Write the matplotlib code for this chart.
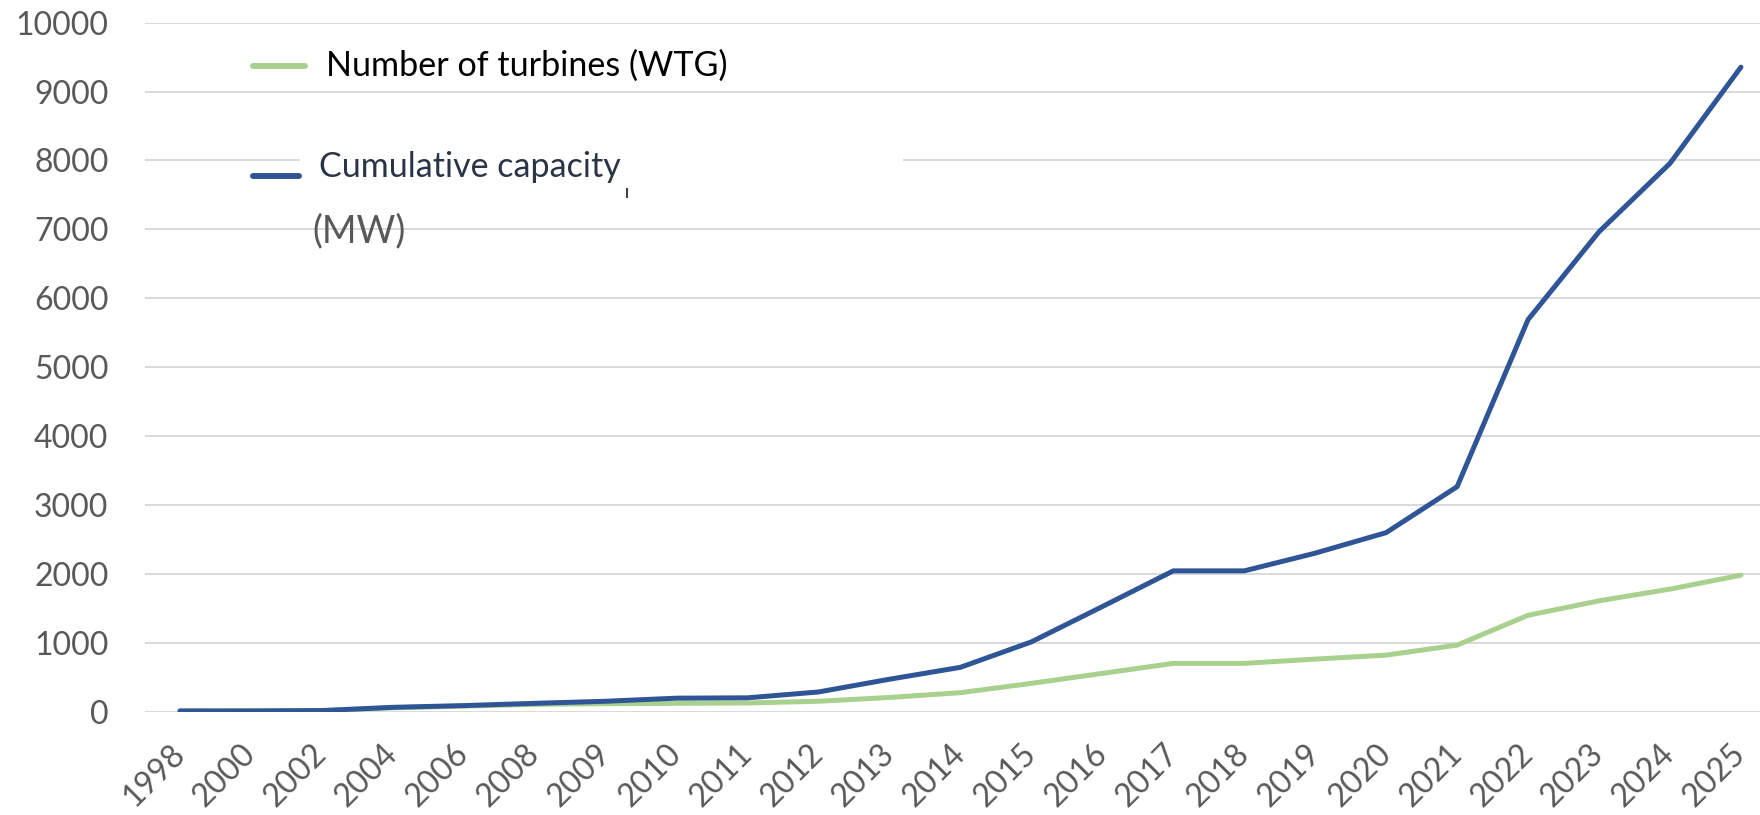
import matplotlib
matplotlib.use("Agg")
import matplotlib.pyplot as plt
from matplotlib.lines import Line2D
from matplotlib.patches import Rectangle

plt.rcParams["font.family"] = ["Lato", "DejaVu Sans"]

years = ["1998", "2000", "2002", "2004", "2006", "2008", "2009", "2010", "2011",
         "2012", "2013", "2014", "2015", "2016", "2017", "2018", "2019", "2020",
         "2021", "2022", "2023", "2024", "2025"]
capacity_mw = [10, 10, 15, 62, 87, 120, 150, 195, 200, 285, 470, 643, 1012, 1525,
               2043, 2043, 2300, 2598, 3265, 5690, 6965, 7958, 9355]
turbines = [5, 8, 12, 55, 80, 105, 115, 120, 125, 150, 205, 275, 410, 555,
            700, 700, 762, 820, 965, 1398, 1608, 1778, 1980]
yticks = list(range(0, 10001, 1000))

GREEN = "#A9D18E"
BLUE = "#2F5597"
W, H = 1760, 815


def fx(x):
    return x / W


def fy(y):
    return 1 - y / H


fig = plt.figure(figsize=(W / 100, H / 100), dpi=100)
ax = fig.add_axes([fx(144.5), fy(711.6), fx(1776.4) - fx(144.5), fy(22.7) - fy(711.6)])

xs = list(range(len(years)))
ax.plot(xs, turbines, color=GREEN, lw=3.6, solid_capstyle="round", solid_joinstyle="round")
ax.plot(xs, capacity_mw, color=BLUE, lw=3.6, solid_capstyle="round", solid_joinstyle="round")

ax.set_xlim(-0.5, len(years) - 0.5)
ax.set_ylim(0, 10000)
ax.set_yticks(yticks)
ax.set_xticks(xs, years, rotation=45, ha="right", va="center", rotation_mode="anchor")

for s in ax.spines.values():
    s.set_visible(False)
ax.tick_params(length=0, labelsize=23, labelcolor="#595959")
ax.tick_params(axis="x", labelsize=23, pad=27)
ax.tick_params(axis="y", pad=26)
ax.grid(axis="y", color="#D9D9D9", lw=1.4)
ax.set_axisbelow(True)

# legend drawn by hand, the way it sits in the original
fig.add_artist(Rectangle((fx(300), fy(172)), fx(903) - fx(300), fy(150) - fy(172),
                         transform=fig.transFigure, facecolor="white",
                         edgecolor="none", zorder=1.5))
fig.add_artist(Line2D([fx(253), fx(305)], [fy(65.7)] * 2, transform=fig.transFigure,
                      color=GREEN, lw=4.3, solid_capstyle="round", zorder=2))
fig.add_artist(Line2D([fx(253), fx(299)], [fy(175.7)] * 2, transform=fig.transFigure,
                      color=BLUE, lw=4.3, solid_capstyle="round", zorder=2))
fig.add_artist(Line2D([fx(627), fx(627)], [fy(189), fy(197)], transform=fig.transFigure,
                      color="#444444", lw=1.5, zorder=2))
fig.text(fx(326), fy(66), "Number of turbines (WTG)", fontsize=24.6, color="black",
         ha="left", va="center")
fig.text(fx(319), fy(167), "Cumulative capacity", fontsize=24.5, color="#2B3445",
         ha="left", va="center")
fig.text(fx(312), fy(231), "(MW)", fontsize=27, color="#595959",
         ha="left", va="center")

fig.savefig("out.png", dpi=100)
